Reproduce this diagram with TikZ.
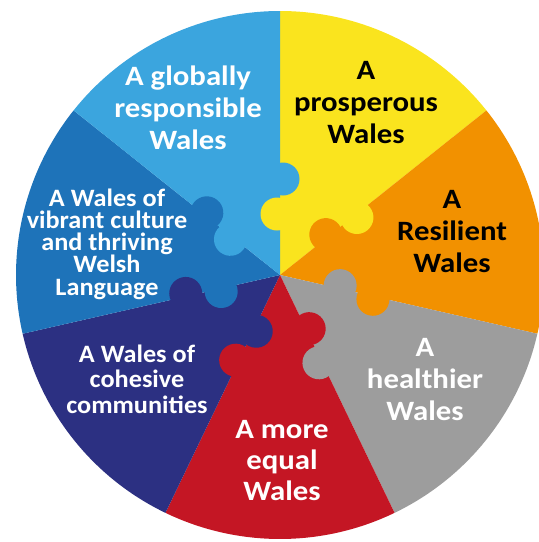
\documentclass[tikz,border=0pt]{standalone}
\usepackage{fontspec}
\setmainfont{Carlito}
\definecolor{cLBlue}{RGB}{59,165,222}
\definecolor{cYellow}{RGB}{250,228,30}
\definecolor{cOrange}{RGB}{242,145,0}
\definecolor{cGray}{RGB}{157,157,157}
\definecolor{cRed}{RGB}{196,22,36}
\definecolor{cNavy}{RGB}{44,48,130}
\definecolor{cBlue}{RGB}{30,115,185}
\begin{document}
\begin{tikzpicture}[x=1pt,y=1pt,
  big/.style={font=\fontsize{28}{32}\selectfont\bfseries, align=center, anchor=base, inner sep=0pt, transform shape, xscale=1.1},
  small/.style={font=\fontsize{25}{22.2}\selectfont\bfseries, align=center, anchor=base, inner sep=0pt, transform shape, xscale=1.05}]
\useasboundingbox (0,0) rectangle (539,-542);
\clip (0,0) rectangle (539,-542);
\coordinate (C) at (280,-275);
% sectors
\foreach \k/\col in {0/cYellow,1/cOrange,2/cGray,3/cRed,4/cNavy,5/cBlue,6/cLBlue}{
  \pgfmathsetmacro\a{90-\k*360/7}
  \pgfmathsetmacro\b{90-(\k+1)*360/7}
  \fill[\col] (C) -- ++(\a:264) arc[start angle=\a, end angle=\b, radius=264] -- cycle;
}
% puzzle tabs on each boundary
\foreach \k/\cw/\ccw in {0/cYellow/cLBlue,1/cOrange/cYellow,2/cGray/cOrange,3/cRed/cGray,4/cNavy/cRed,5/cBlue/cNavy,6/cLBlue/cBlue}{
  \pgfmathsetmacro\a{90-\k*360/7}
  \begin{scope}[shift={(280,-275)}, rotate=\a]
    \fill[\cw] (61,3) circle[radius=16.5];
    \fill[\ccw] (96,-3) circle[radius=16.5];
  \end{scope}
}
% labels (anchored at the baseline of the last line)
\node[big, text=white] (glob) at (188,-149.5) {A globally\\responsible\\Wales};
\node[big, text=black] (pros) at (366,-143.6) {A\\prosperous\\Wales};
\node[big, text=black] (resi) at (452,-272) {A\\Resilient\\Wales};
\node[big, text=white] (heal) at (425,-420) {A\\healthier\\Wales};
\node[big, text=white, font=\fontsize{28}{31}\selectfont\bfseries] (equa) at (282,-500) {A more\\equal\\Wales};
\node[small, text=white, font=\fontsize{25}{25.2}\selectfont\bfseries] (cohe) at (137,-413) {A Wales of\\cohesive\\communities};
\node[small, text=white] (cult) at (107,-295) {A Wales of\\vibrant culture\\and thriving\\Welsh\\Language};
\end{tikzpicture}
\end{document}
